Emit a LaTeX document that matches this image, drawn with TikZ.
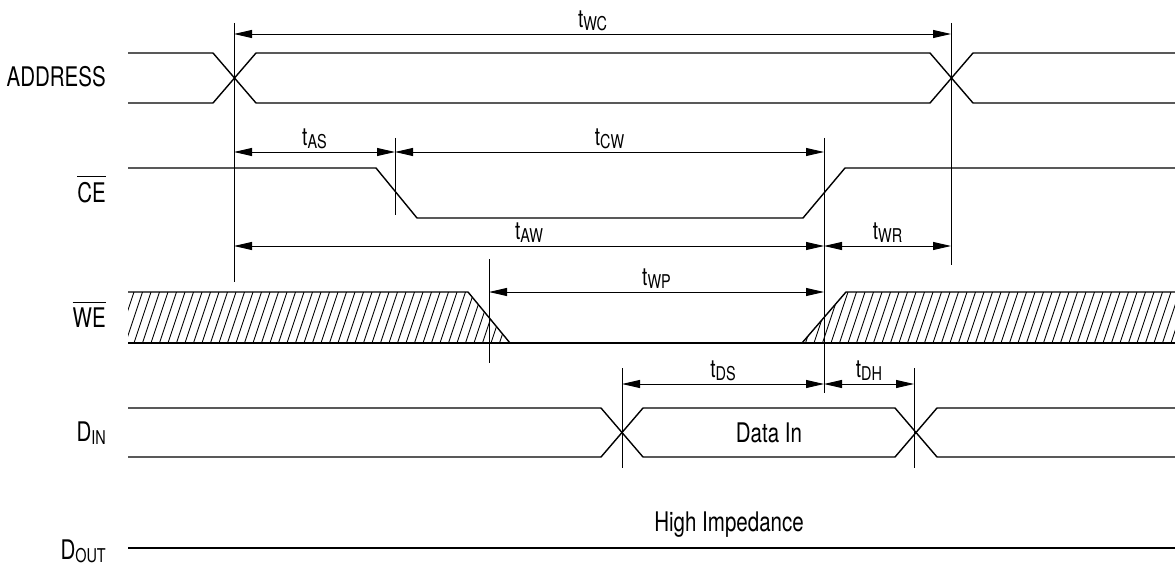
\documentclass[tikz,border=0pt]{standalone}
\usepackage{fontspec}
\setmainfont{TeX Gyre Heros}[FakeStretch=0.76]
\usetikzlibrary{arrows.meta}

\newcommand\lo[1]{\raisebox{-3pt}{\fontsize{19}{20}\selectfont #1}}
\newcommand\ovl[1]{\vbox{\hrule height 1.3pt\kern 4.5pt\hbox{#1}}}

\begin{document}
\begin{tikzpicture}[x=1pt, y=-1pt, >={Triangle[length=18pt,width=8pt]},
	wave/.style={line width=1.4pt},
	marker/.style={line width=0.9pt},
	dim/.style={line width=0.9pt, <->},
	hatch/.style={line width=0.85pt},
	signame/.style={anchor=base east, inner sep=0pt, font=\fontsize{27}{30}\selectfont},
	tlabel/.style={above, inner sep=3pt, font=\fontsize{25}{27}\selectfont},
	note/.style={inner sep=0pt, font=\fontsize{27}{30}\selectfont}]
	\useasboundingbox (0,0) rectangle (1175,567);

	% signal names
	\node[signame] (addr) at (106,87) {ADDRESS};
	\node[signame] (ce) at (106,202) {\ovl{CE}};
	\node[signame] (we) at (106,327) {\ovl{WE}};
	\node[signame] (din) at (106,441) {D\lo{IN}};
	\node[signame] (dout) at (106,559) {D\lo{OUT}};

	% ADDRESS
	\draw[wave] (128,53) -- (213,53) -- (256,103) -- (930,103) -- (973,53) -- (1175,53);
	\draw[wave] (128,103) -- (213,103) -- (256,53) -- (930,53) -- (973,103) -- (1175,103);

	% CE
	\draw[wave] (128,168) -- (376,168) -- (417,218) -- (803,218) -- (845,168) -- (1175,168);

	% WE, don't care parts hatched
	\begin{scope}
		\clip (128,292) -- (468,292) -- (510,343) -- (128,343) -- cycle
		      (802,343) -- (846,292) -- (1175,292) -- (1175,343) -- cycle;
		\foreach \x in {100,108.5,...,1180}
			\draw[hatch] (\x,343) -- ++(17,-51);
	\end{scope}
	\draw[wave] (128,292) -- (468,292) -- (510,343);
	\draw[wave] (802,343) -- (846,292) -- (1175,292);
	\draw[wave] (128,343) -- (1175,343);

	% DIN
	\draw[wave] (128,408) -- (601,408) -- (643,457) -- (895,457) -- (937,408) -- (1175,408);
	\draw[wave] (128,457) -- (601,457) -- (643,408) -- (895,408) -- (937,457) -- (1175,457);
	\node[note] (data) at (769,433) {Data In};

	% DOUT
	\draw[wave] (128,548) -- (1175,548);
	\node[note, anchor=base] (hiz) at (729,531) {High Impedance};

	% timing marks
	\foreach \x/\ya/\yb in {234/23/282, 951/23/265, 395/138/215, 824/138/393,
	                        489/259/363, 622/368/468, 914/368/468}
		\draw[marker] (\x,\ya) -- (\x,\yb);

	% timing parameters
	\foreach \n/\xa/\xb/\y/\s in {wc/234/951/34/WC, as/234/395/152/AS, cw/395/824/152/CW,
	                              aw/234/824/246/AW, wr/824/951/246/WR, wp/489/824/292/WP,
	                              ds/622/824/384/DS, dh/824/914/384/DH} {
		\coordinate (\n-l) at (\xa,\y);
		\coordinate (\n-r) at (\xb,\y);
		\draw[dim] (\n-l) -- node[tlabel] {t\lo{\s}} (\n-r);
	}
\end{tikzpicture}
\end{document}
